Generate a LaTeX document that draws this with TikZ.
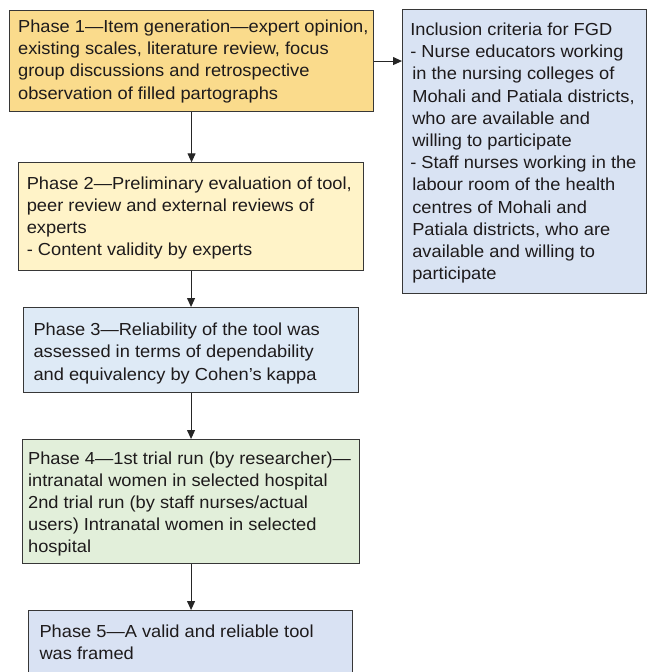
\documentclass[tikz,border=0pt]{standalone}
\usepackage{fontspec}
\setmainfont[FakeStretch=1.05]{Liberation Sans}
\usetikzlibrary{arrows.meta}
\definecolor{cone}{RGB}{250,219,140}
\definecolor{ctwo}{RGB}{255,243,200}
\definecolor{cthree}{RGB}{222,234,246}
\definecolor{cfour}{RGB}{226,239,218}
\definecolor{cfive}{RGB}{217,226,243}
\definecolor{cside}{RGB}{217,227,243}
\definecolor{cborder}{RGB}{55,55,55}
\definecolor{ctext}{RGB}{30,27,28}
\begin{document}
\begin{tikzpicture}[x=1pt,y=-1pt,
  boxshape/.style={draw=cborder, line width=1.1pt, rectangle, inner sep=0pt, anchor=north west},
  txt/.style={anchor=north west, inner sep=0pt, align=left, text=ctext,
    font=\fontsize{17.4pt}{22.2pt}\selectfont},
  conn/.style={draw=black!85, line width=1pt, -{Triangle[width=8pt,length=9pt]}}]
\clip (0,0) rectangle (649,672);
\fill[white] (0,0) rectangle (649,672);
% boxes
\node[boxshape, fill=cone,   minimum width=364pt, minimum height=101pt] (b1) at (9,10) {};
\node[boxshape, fill=ctwo,   minimum width=345pt, minimum height=108pt] (b2) at (18,162.3) {};
\node[boxshape, fill=cthree, minimum width=335pt, minimum height=85pt]  (b3) at (23,307) {};
\node[boxshape, fill=cfour,  minimum width=337pt, minimum height=124pt] (b4) at (22,439) {};
\node[boxshape, fill=cfive,  minimum width=324pt, minimum height=90pt]  (b5) at (28,610) {};
\node[boxshape, fill=cside,  minimum width=244pt, minimum height=284pt] (rb) at (402,9.3) {};
% texts
\node[txt] (t1) at (17.9,19.6) {Phase 1—Item generation—expert opinion,\\existing scales, literature review, focus\\group discussions and retrospective\\observation of filled partographs};
\node[txt] (t2) at (26.6,176.2) {Phase 2—Preliminary evaluation of tool,\\peer review and external reviews of\\experts\\- Content validity by experts};
\node[txt] (t3) at (33.3,322.8) {Phase 3—Reliability of the tool was\\assessed in terms of dependability\\and equivalency by Cohen’s kappa};
\node[txt] (t4) at (27.9,451.2) {Phase 4—1st trial run (by researcher)—\\intranatal women in selected hospital\\2nd trial run (by staff nurses/actual\\users) Intranatal women in selected\\hospital};
\node[txt] (t5) at (39.3,624.2) {Phase 5—A valid and reliable tool\\was framed};
\node[txt] (tr) at (410.1,22.7) {Inclusion criteria for FGD\\- Nurse educators working\\\hspace*{2pt}in the nursing colleges of\\\hspace*{2pt}Mohali and Patiala districts,\\\hspace*{2pt}who are available and\\\hspace*{2pt}willing to participate\\- Staff nurses working in the\\\hspace*{2pt}labour room of the health\\\hspace*{2pt}centres of Mohali and\\\hspace*{2pt}Patiala districts, who are\\\hspace*{2pt}available and willing to\\\hspace*{2pt}participate};
% connectors
\draw[conn] (b1.south) -- (b1.south |- b2.north);
\draw[conn] (b2.south) -- (b2.south |- b3.north);
\draw[conn] (b3.south) -- (b3.south |- b4.north);
\draw[conn] (b4.south) -- (b4.south |- b5.north);
\draw[conn] (b1.east) -- (rb.west |- b1.east);
\end{tikzpicture}
\end{document}
